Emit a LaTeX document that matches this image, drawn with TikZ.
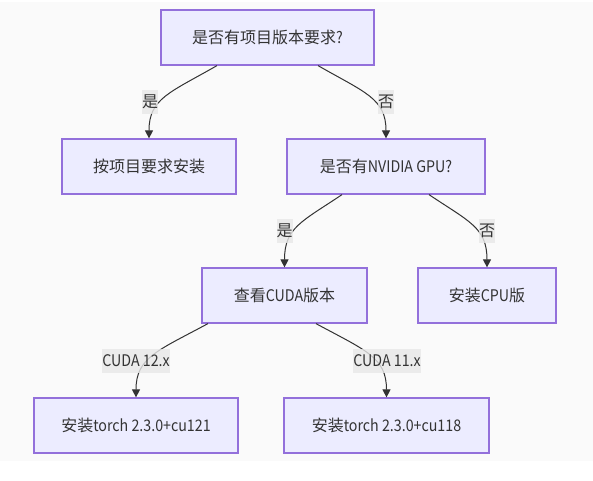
\documentclass[tikz,border=0pt]{standalone}
\usepackage{fontspec}
\setmainfont{Noto Sans CJK SC}
\newfontfamily\lat{Noto Sans CJK SC}[FakeStretch=0.89]
\usetikzlibrary{arrows.meta,positioning}
\definecolor{boxfill}{HTML}{ECECFF}
\definecolor{boxline}{HTML}{9370DB}
\definecolor{ink}{HTML}{333333}
\definecolor{lblfill}{HTML}{E8E8E8}
\definecolor{bgfill}{HTML}{FAFAFA}

\begin{document}
\begin{tikzpicture}[
  x=0.75pt,y=-0.75pt,
  font=\fontsize{12pt}{14pt}\selectfont,
  box/.style={rectangle,draw=boxline,line width=0.9pt,fill=boxfill,
    text=ink,minimum height=41.25pt,inner sep=0pt},
  lbl/.style={rectangle,fill=lblfill,fill opacity=0.8,text opacity=1,
    text=ink,inner xsep=0pt,inner ysep=0pt,minimum height=18pt},
  arr/.style={-{Triangle[length=6pt,width=6pt]},draw=ink,line width=0.75pt}
]
\useasboundingbox (0,0) rectangle (593,481);
\fill[bgfill] (0,2) rectangle (593,461);
% nodes
\node[box,minimum width=159.75pt] (q1) at (267.5,37.5) {是否有项目版本要求{\lat ?}};
\node[box,minimum width=130.5pt] (proj) at (149,166.5) {按项目要求安装};
\node[box,minimum width=148.5pt] (q2) at (386,166.5) {是否有{\lat NVIDIA GPU?}};
\node[box,minimum width=123.75pt] (cuda) at (284.5,295.5) {查看{\lat CUDA}版本};
\node[box,minimum width=103.5pt] (cpu) at (487,295.5) {安装{\lat CPU}版};
\node[box,minimum width=153pt] (t121) at (136,425.5) {安装{\lat torch 2.3.0+cu121}};
\node[box,minimum width=153.75pt] (t118) at (386.5,425.5) {安装{\lat torch 2.3.0+cu118}};
% connectors
\draw[arr] ([xshift=-37.9pt]q1.south) .. controls +(-47,27) and +(0,-40) .. (proj.north);
\draw[arr] ([xshift=37.9pt]q1.south) .. controls +(47,27) and +(0,-40) .. (q2.north);
\draw[arr] ([xshift=-33pt]q2.south) .. controls +(-40,27) and +(0,-40) .. (cuda.north);
\draw[arr] ([xshift=32.25pt]q2.south) .. controls +(40,27) and +(0,-40) .. (cpu.north);
\draw[arr] ([xshift=-57.4pt]cuda.south) .. controls +(-50,27) and +(0,-40) .. (t121.north);
\draw[arr] ([xshift=23.6pt]cuda.south) .. controls +(50,27) and +(0,-40) .. (t118.north);
% labels
\node[lbl] (y1) at (150,102) {是};
\node[lbl] (n1) at (386,102) {否};
\node[lbl] (y2) at (284.5,231) {是};
\node[lbl] (n2) at (487,231) {否};
\node[lbl] (c12) at (136,360.5) {\lat CUDA 12.x};
\node[lbl] (c11) at (387,360.5) {\lat CUDA 11.x};
\end{tikzpicture}
\end{document}
